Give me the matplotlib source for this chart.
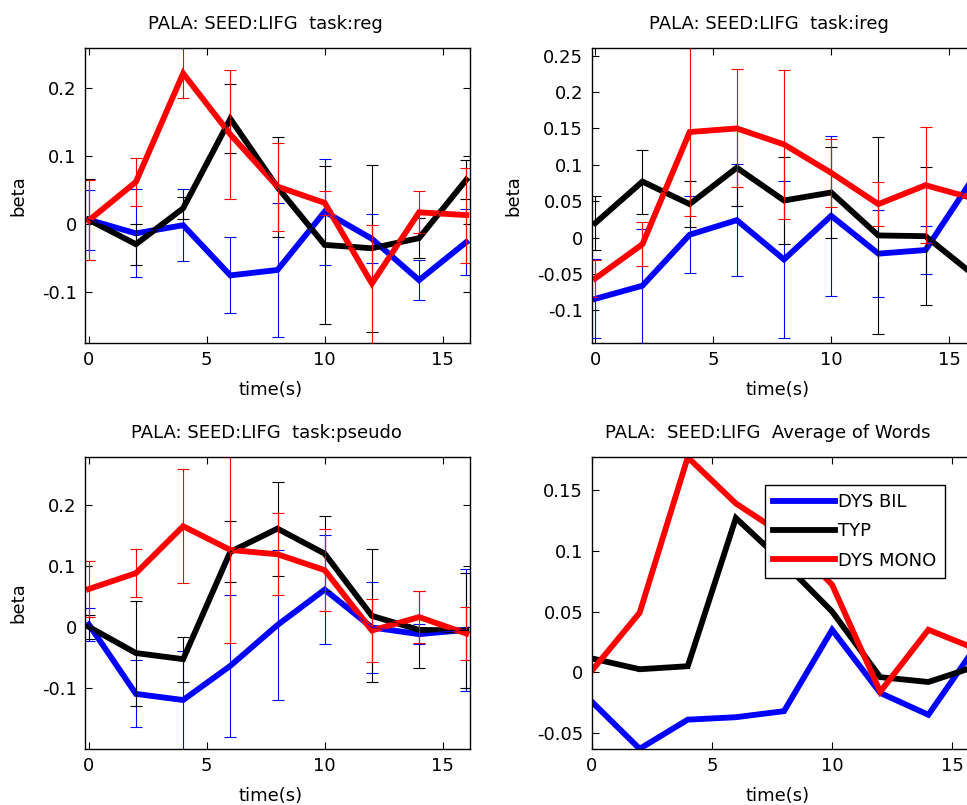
import matplotlib
matplotlib.use('Agg')
import matplotlib.pyplot as plt
from matplotlib.ticker import FuncFormatter, FixedLocator

plt.rcParams['font.family'] = ['DejaVu Sans']
plt.rcParams['axes.unicode_minus'] = False

# ---------------- data ----------------
time_s = [0, 2, 4, 6, 8, 10, 12, 14, 16]
groups = ['DYS BIL', 'TYP', 'DYS MONO']
colors = ['#0000ff', '#000000', '#ff0000']

titles = ['PALA: SEED:LIFG  task:reg',
          'PALA: SEED:LIFG  task:ireg',
          'PALA: SEED:LIFG  task:pseudo',
          'PALA:  SEED:LIFG  Average of Words']

# task:reg
reg_bil = [0.006, -0.014, -0.002, -0.076, -0.068, 0.018, -0.022, -0.083, -0.027]
reg_bil_err = [0.044, 0.065, 0.053, 0.056, 0.099, 0.078, 0.036, 0.029, 0.049]
reg_typ = [0.006, -0.030, 0.023, 0.155, 0.054, -0.031, -0.036, -0.021, 0.065]
reg_typ_err = [0.060, 0.030, 0.016, 0.051, 0.074, 0.116, 0.123, 0.030, 0.029]
reg_mono = [0.005, 0.062, 0.222, 0.132, 0.055, 0.031, -0.088, 0.017, 0.013]
reg_mono_err = [0.059, 0.035, 0.037, 0.095, 0.065, 0.018, 0.087, 0.031, 0.070]

# task:ireg
ireg_bil = [-0.084, -0.066, 0.004, 0.024, -0.030, 0.030, -0.022, -0.017, 0.081]
ireg_bil_err = [0.054, 0.078, 0.053, 0.077, 0.108, 0.110, 0.060, 0.033, 0.047]
ireg_typ = [0.020, 0.077, 0.046, 0.096, 0.051, 0.062, 0.003, 0.002, -0.050]
ireg_typ_err = [0.037, 0.044, 0.032, 0.053, 0.060, 0.062, 0.135, 0.095, 0.041]
ireg_mono = [-0.056, -0.009, 0.145, 0.150, 0.128, 0.089, 0.046, 0.072, 0.054]
ireg_mono_err = [0.025, 0.030, 0.115, 0.081, 0.102, 0.047, 0.030, 0.080, 0.058]

# task:pseudo
pseudo_bil = [0.004, -0.110, -0.120, -0.064, 0.003, 0.061, -0.001, -0.012, -0.005]
pseudo_bil_err = [0.027, 0.055, 0.080, 0.117, 0.123, 0.089, 0.074, 0.016, 0.100]
pseudo_typ = [0.000, -0.043, -0.053, 0.123, 0.161, 0.120, 0.018, -0.005, -0.006]
pseudo_typ_err = [0.020, 0.086, 0.037, 0.050, 0.077, 0.062, 0.109, 0.063, 0.095]
pseudo_mono = [0.062, 0.088, 0.165, 0.126, 0.119, 0.093, -0.006, 0.016, -0.011]
pseudo_mono_err = [0.046, 0.039, 0.093, 0.152, 0.067, 0.067, 0.052, 0.043, 0.044]

# Average of Words
avg_bil = [-0.024, -0.063, -0.039, -0.037, -0.032, 0.035, -0.017, -0.035, 0.022]
avg_typ = [0.0115, 0.0025, 0.005, 0.127, 0.090, 0.050, -0.004, -0.008, 0.005]
avg_mono = [0.001, 0.049, 0.177, 0.139, 0.113, 0.072, -0.016, 0.035, 0.019]

x_ticks = [0, 5, 10, 15]
y_ticks = [[-0.1, 0, 0.1, 0.2],
           [-0.1, -0.05, 0, 0.05, 0.1, 0.15, 0.2, 0.25],
           [-0.1, 0, 0.1, 0.2],
           [-0.05, 0, 0.05, 0.1, 0.15]]

panels = [
    ([reg_bil, reg_typ, reg_mono], [reg_bil_err, reg_typ_err, reg_mono_err]),
    ([ireg_bil, ireg_typ, ireg_mono], [ireg_bil_err, ireg_typ_err, ireg_mono_err]),
    ([pseudo_bil, pseudo_typ, pseudo_mono], [pseudo_bil_err, pseudo_typ_err, pseudo_mono_err]),
    ([avg_bil, avg_typ, avg_mono], None),
]

# ---------------- layout (pixels) ----------------
W, H = 967, 805
boxes = [(85, 48.3, 470, 342.5), (591.5, 48.3, 976.5, 342.5),
         (85, 457.3, 470, 748.8), (591.5, 457.3, 976.5, 748.8)]
title_x = [0.4675, 0.461, 0.47, 0.457]
FS = 13

fig = plt.figure(figsize=(W / 100, H / 100), dpi=100)
fmt = FuncFormatter(lambda v, p: '%g' % round(v, 4))

for i, (series, errs) in enumerate(panels):
    l, t, r, b = boxes[i]
    ax = fig.add_axes([l / W, 1 - b / H, (r - l) / W, (b - t) / H])
    lines = []
    lo, hi = [], []
    for k in range(3):
        if errs is not None:
            ax.errorbar(time_s, series[k], yerr=errs[k], color=colors[k],
                        lw=0.8, capsize=4, capthick=0.8, elinewidth=0.8)
            lo.append(min(v - e for v, e in zip(series[k], errs[k])))
            hi.append(max(v + e for v, e in zip(series[k], errs[k])))
        else:
            lo.append(min(series[k]))
            hi.append(max(series[k]))
        ln, = ax.plot(time_s, series[k], color=colors[k], lw=4.2,
                      solid_joinstyle='miter', label=groups[k])
        lines.append(ln)
    if errs is not None:
        ax.set_xlim(-0.16, 16.16)
    else:
        ax.set_xlim(0, 16)
    ax.set_ylim(min(lo), max(hi))
    ax.xaxis.set_major_locator(FixedLocator(x_ticks))
    ax.yaxis.set_major_locator(FixedLocator(y_ticks[i]))
    ax.yaxis.set_major_formatter(fmt)
    ax.tick_params(direction='in', length=5, width=0.8, top=True, right=True,
                   labelsize=FS, pad=6, colors='black')
    for s in ax.spines.values():
        s.set_linewidth(1.0)
    ax.set_title(titles[i], fontsize=FS, x=title_x[i], y=1 + 24.3 / (b - t),
                 va='center', pad=0)
    ax.set_xlabel('time(s)', fontsize=FS, va='center')
    ax.xaxis.set_label_coords(0.482, -(47.5 / (b - t)))
    if i < 3:
        ax.set_ylabel('beta', fontsize=FS, va='center')
        cx = 18 if i != 1 else 513
        ax.yaxis.set_label_coords((cx - l) / (r - l), 0.5)
    if i == 3:
        leg = ax.legend(handles=lines, loc='upper left',
                        bbox_to_anchor=(765 / W, 1 - 485 / H),
                        bbox_transform=fig.transFigure, fontsize=FS,
                        fancybox=False, framealpha=1, edgecolor='black',
                        handlelength=3.4, handletextpad=0.2,
                        labelspacing=0.62, borderpad=0.45, borderaxespad=0)
        leg.get_frame().set_linewidth(1.0)

fig.savefig('out.png', dpi=100)
